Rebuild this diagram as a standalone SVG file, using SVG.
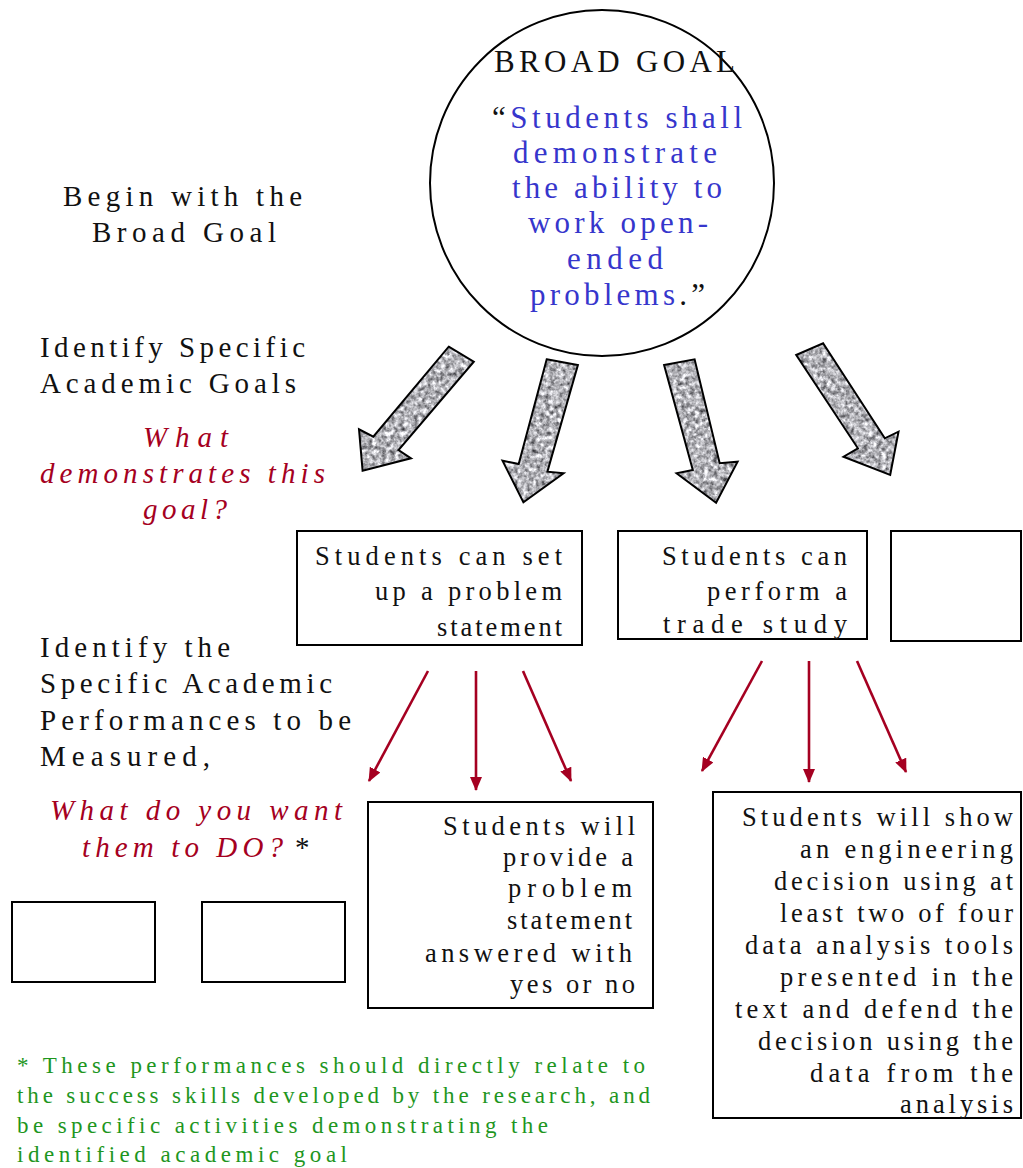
<svg xmlns="http://www.w3.org/2000/svg" width="1023" height="1168" viewBox="0 0 1023 1168">
<style>
  text { font-family: "Liberation Serif", "Times New Roman", serif; }
  .lbl { font-size: 29px; fill: #111; }
  .ital { font-style: italic; fill: #a50021; }
  .cir { font-size: 31px; fill: #111; }
  .blue { fill: #3636cc; }
  .bt { font-size: 26.5px; fill: #111; }
  .ft { font-size: 23px; fill: #1e961e; }
  .box { fill: #fff; stroke: #000; stroke-width: 2; }
  .outline { fill: none; stroke: #000; stroke-width: 2; stroke-linejoin: miter; }
  .stone { fill: #aaa; }
  .red { stroke: #a50021; stroke-width: 2.6; fill: none; }
</style>
<defs>
  <filter id="granite" x="0" y="0" width="100%" height="100%" color-interpolation-filters="sRGB">
    <feTurbulence type="fractalNoise" baseFrequency="0.22" numOctaves="3" seed="7" result="noise"/>
    <feColorMatrix in="noise" type="matrix" values="0.85 0.85 0 0 -0.15  0.85 0.85 0 0 -0.15  0.85 0.85 0 0 -0.13  0 0 0 0 1" result="gray"/>
    <feComposite in="gray" in2="SourceGraphic" operator="in"/>
  </filter>
  <marker id="head" viewBox="0 0 14 12" refX="13" refY="6" markerWidth="14" markerHeight="12" markerUnits="userSpaceOnUse" orient="auto">
    <path d="M0,0 L14,6 L0,12 z" fill="#a50021"/>
  </marker>
</defs>
<rect width="1023" height="1168" fill="#fff"/>

<!-- Left-side labels -->
<g id="label-begin">
  <text class="lbl" x="63" y="206" textLength="239" lengthAdjust="spacing">Begin with the</text>
  <text class="lbl" x="92" y="242" textLength="184" lengthAdjust="spacing">Broad Goal</text>
</g>
<g id="label-identify-goals">
  <text class="lbl" x="40" y="357" textLength="265" lengthAdjust="spacing">Identify Specific</text>
  <text class="lbl" x="40" y="393" textLength="256" lengthAdjust="spacing">Academic Goals</text>
  <text class="lbl ital" x="143" y="447" textLength="85" lengthAdjust="spacing">What</text>
  <text class="lbl ital" x="40" y="483" textLength="285" lengthAdjust="spacing">demonstrates this</text>
  <text class="lbl ital" x="143" y="519" textLength="84" lengthAdjust="spacing">goal?</text>
</g>
<g id="label-identify-performances">
  <text class="lbl" x="40" y="657" textLength="190" lengthAdjust="spacing">Identify the</text>
  <text class="lbl" x="40" y="693" textLength="292" lengthAdjust="spacing">Specific Academic</text>
  <text class="lbl" x="40" y="730" textLength="311" lengthAdjust="spacing">Performances to be</text>
  <text class="lbl" x="40" y="766" textLength="170" lengthAdjust="spacing">Measured,</text>
  <text class="lbl ital" x="50" y="820" textLength="292" lengthAdjust="spacing">What do you want</text>
  <text class="lbl ital" x="82" y="857" textLength="201" lengthAdjust="spacing">them to DO?</text>
  <text class="lbl" x="295" y="857">*</text>
</g>

<!-- Broad goal circle -->
<g id="broad-goal">
  <ellipse cx="602" cy="183" rx="172" ry="173" fill="#fff" stroke="#000" stroke-width="2"/>
  <text class="cir" x="494" y="72" textLength="241" lengthAdjust="spacing">BROAD GOAL</text>
  <text class="cir" x="492" y="128" textLength="250" lengthAdjust="spacing">“<tspan class="blue">Students shall</tspan></text>
  <text class="cir blue" x="513" y="163" textLength="204" lengthAdjust="spacing">demonstrate</text>
  <text class="cir blue" x="512" y="198" textLength="210" lengthAdjust="spacing">the ability to</text>
  <text class="cir blue" x="528" y="233" textLength="180" lengthAdjust="spacing">work open-</text>
  <text class="cir blue" x="567" y="269" textLength="96" lengthAdjust="spacing">ended</text>
  <text class="cir" x="530" y="305" textLength="175" lengthAdjust="spacing"><tspan class="blue">problems</tspan>.”</text>
</g>

<!-- Connectors -->
<g id="connectors">
  <g id="goal-arrow-1">
    <polygon class="stone" filter="url(#granite)" points="448.7,346.7 473.8,361.7 398.5,450 411,458.3 362.6,470.7 359,429.3 373.3,436.7"/>
    <polygon class="outline" points="448.7,346.7 473.8,361.7 398.5,450 411,458.3 362.6,470.7 359,429.3 373.3,436.7"/>
  </g>
  <g id="goal-arrow-2">
    <polygon class="stone" filter="url(#granite)" points="546.7,359.3 577.9,365 547.4,471.7 563.6,473.3 523.4,502.3 502.5,460.7 518.7,464"/>
    <polygon class="outline" points="546.7,359.3 577.9,365 547.4,471.7 563.6,473.3 523.4,502.3 502.5,460.7 518.7,464"/>
  </g>
  <g id="goal-arrow-3">
    <polygon class="stone" filter="url(#granite)" points="664.1,365 694.6,359.3 719.7,463.3 737.6,461.7 716.1,502.7 676.6,473.3 692.8,470"/>
    <polygon class="outline" points="664.1,365 694.6,359.3 719.7,463.3 737.6,461.7 716.1,502.7 676.6,473.3 692.8,470"/>
  </g>
  <g id="goal-arrow-4">
    <polygon class="stone" filter="url(#granite)" points="796.2,355 823.1,343.3 884.8,438.3 898.5,431.7 890.2,475 843.5,456.7 857.9,448.3"/>
    <polygon class="outline" points="796.2,355 823.1,343.3 884.8,438.3 898.5,431.7 890.2,475 843.5,456.7 857.9,448.3"/>
  </g>
  <line class="red" x1="428" y1="671" x2="369" y2="781" marker-end="url(#head)"/>
  <line class="red" x1="476" y1="671" x2="476" y2="790" marker-end="url(#head)"/>
  <line class="red" x1="523" y1="671" x2="571" y2="781" marker-end="url(#head)"/>
  <line class="red" x1="762" y1="661" x2="702" y2="771" marker-end="url(#head)"/>
  <line class="red" x1="809" y1="661" x2="809" y2="782" marker-end="url(#head)"/>
  <line class="red" x1="857" y1="661" x2="906" y2="772" marker-end="url(#head)"/>
</g>

<!-- Academic goal boxes -->
<g id="goal-problem-statement">
  <rect class="box" x="297" y="531" width="285" height="114"/>
  <text class="bt" x="315" y="565" textLength="247" lengthAdjust="spacing">Students can set</text>
  <text class="bt" x="375" y="600" textLength="187" lengthAdjust="spacing">up a problem</text>
  <text class="bt" x="437" y="636" textLength="125" lengthAdjust="spacing">statement</text>
</g>
<g id="goal-trade-study">
  <rect class="box" x="618" y="531" width="249" height="108"/>
  <text class="bt" x="662" y="565" textLength="185" lengthAdjust="spacing">Students can</text>
  <text class="bt" x="707" y="600" textLength="140" lengthAdjust="spacing">perform a</text>
  <text class="bt" x="663" y="633" textLength="184" lengthAdjust="spacing">trade study</text>
</g>
<g id="goal-empty">
  <rect class="box" x="891" y="531" width="130" height="110"/>
</g>

<!-- Performance boxes -->
<g id="perf-empty-1">
  <rect class="box" x="12" y="902" width="143" height="80"/>
</g>
<g id="perf-empty-2">
  <rect class="box" x="202" y="902" width="143" height="80"/>
</g>
<g id="perf-problem-statement">
  <rect class="box" x="368" y="802" width="285" height="206"/>
  <text class="bt" x="443" y="835" textLength="192" lengthAdjust="spacing">Students will</text>
  <text class="bt" x="503" y="866" textLength="130" lengthAdjust="spacing">provide a</text>
  <text class="bt" x="508" y="897" textLength="124" lengthAdjust="spacing">problem</text>
  <text class="bt" x="507" y="929" textLength="125" lengthAdjust="spacing">statement</text>
  <text class="bt" x="425" y="962" textLength="207" lengthAdjust="spacing">answered with</text>
  <text class="bt" x="510" y="993" textLength="125" lengthAdjust="spacing">yes or no</text>
</g>
<g id="perf-engineering-decision">
  <rect class="box" x="713" y="792" width="308" height="326"/>
  <text class="bt" x="742" y="826" textLength="271" lengthAdjust="spacing">Students will show</text>
  <text class="bt" x="800" y="858" textLength="213" lengthAdjust="spacing">an engineering</text>
  <text class="bt" x="774" y="890" textLength="239" lengthAdjust="spacing">decision using at</text>
  <text class="bt" x="780" y="922" textLength="233" lengthAdjust="spacing">least two of four</text>
  <text class="bt" x="745" y="954" textLength="268" lengthAdjust="spacing">data analysis tools</text>
  <text class="bt" x="780" y="986" textLength="233" lengthAdjust="spacing">presented in the</text>
  <text class="bt" x="735" y="1018" textLength="278" lengthAdjust="spacing">text and defend the</text>
  <text class="bt" x="758" y="1050" textLength="255" lengthAdjust="spacing">decision using the</text>
  <text class="bt" x="810" y="1082" textLength="203" lengthAdjust="spacing">data from the</text>
  <text class="bt" x="900" y="1113" textLength="113" lengthAdjust="spacing">analysis</text>
</g>

<!-- Footnote -->
<g id="footnote">
  <text class="ft" x="17" y="1073" textLength="628" lengthAdjust="spacing">* These performances should directly relate to</text>
  <text class="ft" x="17" y="1103" textLength="633" lengthAdjust="spacing">the success skills developed by the research, and</text>
  <text class="ft" x="17" y="1133" textLength="531" lengthAdjust="spacing">be specific activities demonstrating the</text>
  <text class="ft" x="17" y="1162" textLength="330" lengthAdjust="spacing">identified academic goal</text>
</g>
</svg>
